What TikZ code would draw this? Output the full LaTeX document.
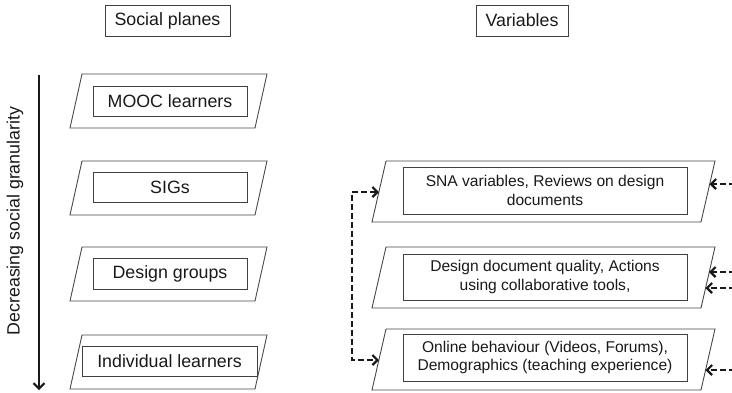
\documentclass[tikz,border=0pt]{standalone}
\usepackage{fontspec}
\setmainfont{Liberation Sans}
\usetikzlibrary{arrows.meta,calc}
\begin{document}
\begin{tikzpicture}[x=1pt,y=-1pt,
  plane/.style={draw=black!72,line width=0.9pt},
  bigfont/.style={font=\fontsize{17.8}{21}\selectfont},
  smallfont/.style={font=\fontsize{15.6}{18.5}\selectfont},
  inbox/.style={draw=black!75,line width=0.9pt,inner sep=0pt,align=center,text=black!90},
  dasharr/.style={draw=black!90,line width=2.2pt,dash pattern=on 6pt off 3pt,line join=miter,
    -{Straight Barb[length=5pt,width=10pt]}},
  dashboth/.style={draw=black!90,line width=2.2pt,dash pattern=on 6pt off 3pt,line join=miter,
    {Straight Barb[length=5pt,width=10pt]}-{Straight Barb[length=5pt,width=10pt]}},
]
\useasboundingbox (0,0) rectangle (732,392);

% headers
\node[inbox,bigfont,minimum width=125pt,minimum height=31pt] (hsoc) at (167.5,20.5) {Social planes};
\node[inbox,bigfont,minimum width=92pt,minimum height=31pt] (hvar) at (522,20.5) {Variables};

% granularity arrow
\coordinate (gTop) at (39,75);
\coordinate (gBot) at (39,390);
\draw[line width=2.1pt,black!90,-{Straight Barb[length=5.5pt,width=11pt]}] (gTop) -- (gBot);
\node[rotate=90,bigfont,text=black!90] (gran) at (15,221) {Decreasing social granularity};

% left parallelograms
\draw[plane] (82,74) -- (267,74) -- (255,128) -- (70,128) -- cycle;
\draw[plane] (82,161) -- (267,161) -- (255,215) -- (70,215) -- cycle;
\draw[plane] (82,247) -- (267,247) -- (255,301) -- (70,301) -- cycle;
\draw[plane] (82,335) -- (267,335) -- (255,389) -- (70,389) -- cycle;

\node[inbox,bigfont,minimum width=154pt,minimum height=30pt] (mooc) at (170,101) {MOOC learners};
\node[inbox,bigfont,minimum width=154pt,minimum height=30pt] (sigs) at (170,187) {SIGs};
\node[inbox,bigfont,minimum width=154pt,minimum height=31pt] (dgrp) at (170,273.5) {Design groups};
\node[inbox,bigfont,minimum width=175pt,minimum height=30pt] (indiv) at (169.5,361) {Individual learners};

% right parallelograms
\draw[plane] (386,161) -- (715,161) -- (701,222) -- (372,222) -- cycle;
\draw[plane] (386,247) -- (715,247) -- (701,308) -- (372,308) -- cycle;
\draw[plane] (386,329) -- (715,329) -- (701,390) -- (372,390) -- cycle;

\node[inbox,smallfont,minimum width=284pt,minimum height=47pt] (sna) at (545,190.5)
  {SNA variables, Reviews on design\\documents};
\node[inbox,smallfont,minimum width=284pt,minimum height=46pt] (ddq) at (545,277)
  {Design document quality, Actions\\using collaborative tools,};
\node[inbox,smallfont,minimum width=284pt,minimum height=47pt] (onl) at (545,357.5)
  {Online behaviour (Videos, Forums),\\Demographics (teaching experience)};

% left dashed connector
\coordinate (snaL) at (379,192);
\coordinate (onlL) at (379,360);
\draw[dashboth] (snaL) -- (352,192) -- (352,360) -- (onlL);

% right dashed arrows
\coordinate (snaR) at (709.5,184);
\coordinate (ddqR1) at (709,272);
\coordinate (ddqR2) at (705.5,288);
\coordinate (onlR) at (705.5,370);
\coordinate (e1) at (735,184);
\coordinate (e2) at (735,272);
\coordinate (e3) at (735,288);
\coordinate (e4) at (735,370);
\draw[dasharr] (e1) -- (snaR);
\draw[dasharr] (e2) -- (ddqR1);
\draw[dasharr] (e3) -- (ddqR2);
\draw[dasharr] (e4) -- (onlR);
\end{tikzpicture}
\end{document}
